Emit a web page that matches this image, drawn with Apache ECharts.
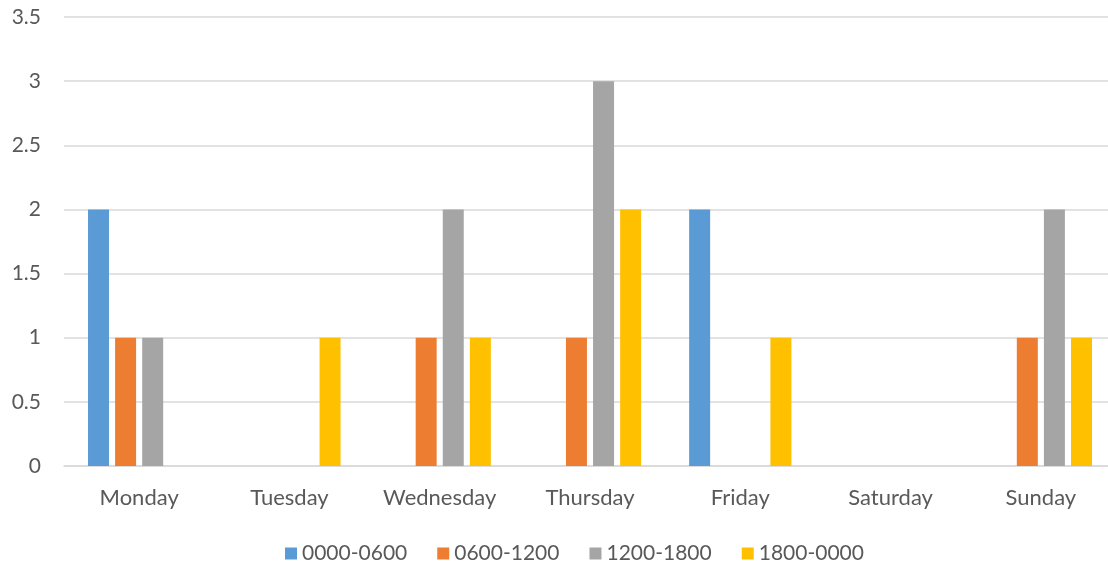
<!DOCTYPE html>
<html>
<head>
<meta charset="utf-8">
<script src="https://cdn.jsdelivr.net/npm/echarts@6/dist/echarts.min.js"></script>
<style>
html,body{margin:0;padding:0;background:#fff;}
#chart{width:1108px;height:566px;}
</style>
</head>
<body>
<div id="chart"></div>
<script>
// Days of the week and counts per time-of-day window
const days = ['Monday', 'Tuesday', 'Wednesday', 'Thursday', 'Friday', 'Saturday', 'Sunday'];
const seriesNames = ['0000-0600', '0600-1200', '1200-1800', '1800-0000'];
const night = [2, 0, 0, 0, 2, 0, 0];
const morning = [1, 0, 1, 1, 0, 0, 1];
const afternoon = [1, 0, 2, 3, 0, 0, 2];
const evening = [0, 1, 1, 2, 1, 0, 1];
const colors = ['#5B9BD5', '#ED7D31', '#A5A5A5', '#FFC000'];

const font = 'Lato, "Open Sans", sans-serif';
const chart = echarts.init(document.getElementById('chart'));
const values = [night, morning, afternoon, evening];

chart.setOption({
  animation: false,
  textStyle: { fontFamily: font },
  // plot runs slightly past the right edge of the canvas
  grid: { left: 64, width: 1052, top: 17, height: 449, outerBoundsMode: 'none', containLabel: false },
  legend: {
    top: 538,
    left: 280,
    icon: 'rect',
    itemWidth: 12,
    itemHeight: 12,
    itemGap: 30,
    textStyle: { color: '#595959', fontSize: 21, fontFamily: font },
    data: seriesNames
  },
  xAxis: {
    type: 'category',
    data: days,
    axisLine: { lineStyle: { color: '#d9d9d9', width: 1.5 } },
    axisTick: { show: false },
    axisLabel: { color: '#595959', fontSize: 22, margin: 21, fontFamily: font }
  },
  yAxis: {
    type: 'value',
    min: 0,
    max: 3.5,
    interval: 0.5,
    axisLine: { show: false },
    axisTick: { show: false },
    axisLabel: { color: '#595959', fontSize: 21, margin: 23, fontFamily: font },
    splitLine: { lineStyle: { color: '#d9d9d9', width: 1.5 } }
  },
  series: seriesNames.map((name, i) => ({
    name: name,
    type: 'bar',
    data: values[i],
    barWidth: 21,
    barGap: '29%',
    itemStyle: { color: colors[i] }
  }))
});
</script>
</body>
</html>
